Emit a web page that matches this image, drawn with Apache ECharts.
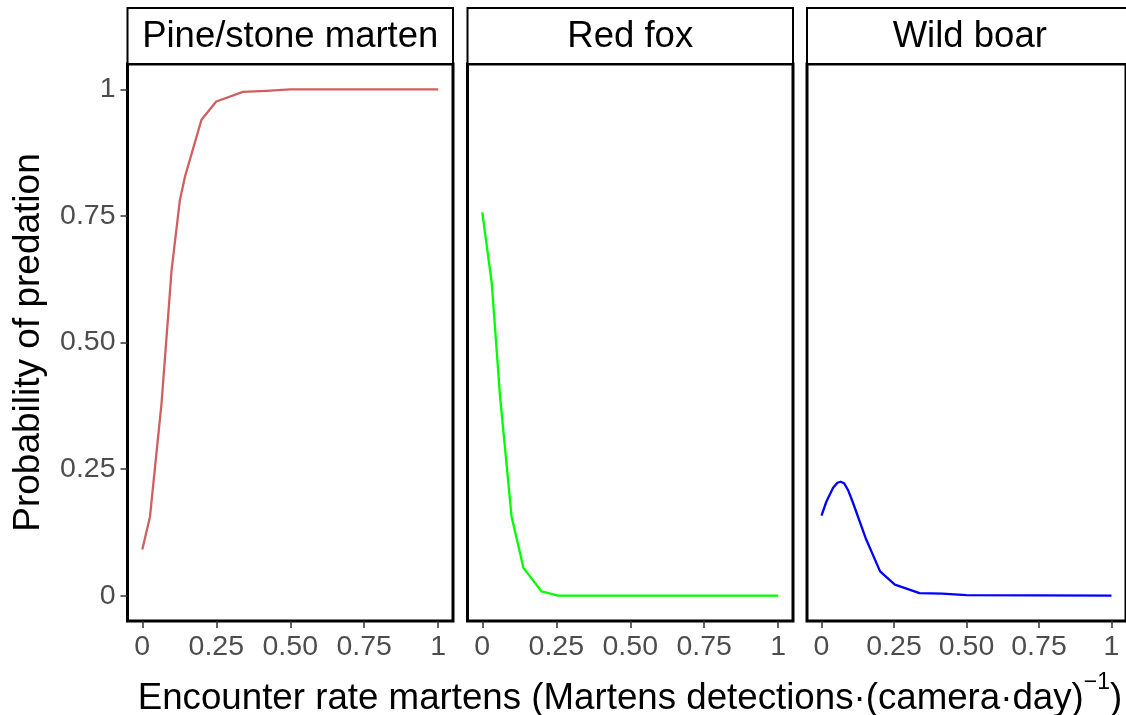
<!DOCTYPE html>
<html>
<head>
<meta charset="utf-8">
<title>Probability of predation</title>
<script src="https://cdn.jsdelivr.net/npm/echarts@6.0.0/dist/echarts.min.js"></script>
<style>
  html, body { margin: 0; padding: 0; background: #fff; }
  #main { width: 1126px; height: 715px; }
</style>
</head>
<body>
<div id="main"></div>
<script>
"use strict";

// facet names and line colours
var panelNames = ["Pine/stone marten", "Red fox", "Wild boar"];
var lineColors = ["#d0605f", "#00ff00", "#0000ff"];

// shared tick positions / labels for both axes
var tickValues = [0, 0.25, 0.5, 0.75, 1];
var tickLabels = ["0", "0.25", "0.50", "0.75", "1"];

// predicted probability of predation vs encounter rate
var martenX = [0, 0.026, 0.065, 0.082, 0.099, 0.127, 0.144, 0.2, 0.25, 0.34, 0.42, 0.5, 1];
var martenY = [0.091, 0.156, 0.38, 0.511, 0.643, 0.781, 0.827, 0.94, 0.976, 0.995, 0.997, 1.0, 1.0];

var foxX = [0, 0.032, 0.06, 0.099, 0.139, 0.2, 0.257, 0.5, 1];
var foxY = [0.757, 0.617, 0.393, 0.156, 0.055, 0.0085, 0.0, 0.0, 0.0];

var boarX = [0, 0.017, 0.04, 0.055, 0.066, 0.078, 0.092, 0.107, 0.152, 0.202, 0.253, 0.338, 0.416, 0.5, 1];
var boarY = [0.158, 0.186, 0.213, 0.223, 0.225, 0.222, 0.208, 0.186, 0.114, 0.048, 0.022, 0.005, 0.004, 0.001, 0.0];

var FONT = "'Liberation Sans', Arial, sans-serif";
var panelLeft = [127.5, 467.5, 807];
var panelWidth = 325.5;
var panelTop = 64;
var panelHeight = 557;
var stripTop = 8;

function pairs(xs, ys) {
    var out = [];
    for (var i = 0; i < xs.length; i++) {
        out.push([xs[i], ys[i]]);
    }
    return out;
}

function tickLabel(v) {
    for (var i = 0; i < tickValues.length; i++) {
        if (Math.abs(tickValues[i] - v) < 1e-9) return tickLabels[i];
    }
    return "";
}

var seriesData = [pairs(martenX, martenY), pairs(foxX, foxY), pairs(boarX, boarY)];

var grids = [], xAxes = [], yAxes = [], series = [], graphics = [];

panelNames.forEach(function (name, i) {
    grids.push({
        left: panelLeft[i], top: panelTop, width: panelWidth, height: panelHeight,
        show: true, borderColor: "#000", borderWidth: 3, backgroundColor: "#fff"
    });
    xAxes.push({
        type: "value", gridIndex: i, min: -0.05, max: 1.05,
        axisLine: { show: false, onZero: false },
        splitLine: { show: false },
        axisTick: { show: true, customValues: tickValues, length: 7, lineStyle: { color: "#333", width: 1.5 } },
        axisLabel: { customValues: tickValues, formatter: tickLabel, margin: 12, fontSize: 28.5, color: "#4d4d4d", fontFamily: FONT }
    });
    yAxes.push({
        type: "value", gridIndex: i, min: -0.05, max: 1.05,
        axisLine: { show: false, onZero: false },
        splitLine: { show: false },
        axisTick: { show: i === 0, customValues: tickValues, length: 7, lineStyle: { color: "#333", width: 1.5 } },
        axisLabel: { show: i === 0, customValues: tickValues, formatter: tickLabel, margin: 12, fontSize: 28.5, color: "#4d4d4d", fontFamily: FONT },
        name: i === 0 ? "Probability of predation" : "",
        nameLocation: "middle",
        nameGap: 80,
        nameTextStyle: { fontSize: 37, color: "#000", fontFamily: FONT }
    });
    series.push({
        type: "line", xAxisIndex: i, yAxisIndex: i,
        data: seriesData[i],
        symbol: "none",
        lineStyle: { color: lineColors[i], width: 2.3, join: "round" },
        itemStyle: { color: lineColors[i] },
        silent: true
    });

    // facet strip on top of each panel
    graphics.push({
        type: "rect",
        shape: { x: panelLeft[i], y: stripTop, width: panelWidth, height: panelTop - stripTop },
        style: { fill: "#fff", stroke: "#000", lineWidth: 2 }
    });
    graphics.push({
        type: "text",
        x: panelLeft[i] + panelWidth / 2, y: (stripTop + panelTop) / 2 + 1,
        style: {
            text: name, fontSize: 36.5, fontFamily: FONT, fill: "#000",
            align: "center", verticalAlign: "middle",
            textAlign: "center", textVerticalAlign: "middle"
        }
    });
});

// x axis title with the superscript
graphics.push({
    type: "text",
    x: 630, y: 699,
    style: {
        text: "{a|Encounter rate martens (Martens detections\u00b7(camera\u00b7day)}{s|\u22121}{a|)}",
        align: "center", verticalAlign: "middle",
        textAlign: "center", textVerticalAlign: "middle",
        rich: {
            a: { fontSize: 36.7, fontFamily: FONT, fill: "#000", lineHeight: 56, verticalAlign: "middle" },
            s: { fontSize: 23, fontFamily: FONT, fill: "#000", lineHeight: 23, verticalAlign: "top" }
        }
    }
});

var myChart = echarts.init(document.getElementById("main"));
myChart.setOption({
    animation: false,
    backgroundColor: "#fff",
    grid: grids,
    xAxis: xAxes,
    yAxis: yAxes,
    series: series,
    graphic: graphics
});
</script>
</body>
</html>
